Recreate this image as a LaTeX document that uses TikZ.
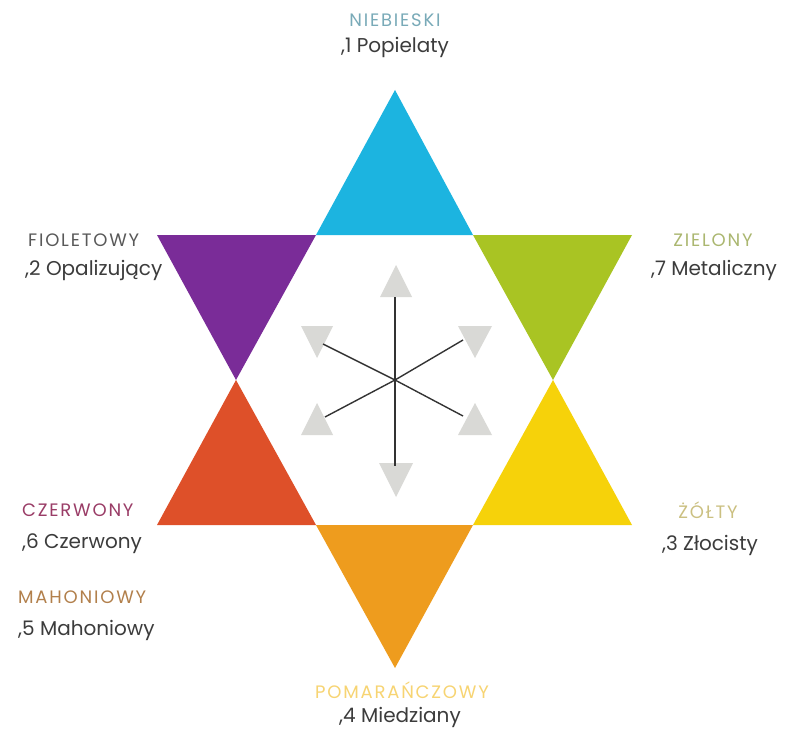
\documentclass[tikz,border=0pt]{standalone}
\usepackage{fontspec}
\setmainfont{Poppins}
\usepackage{xcolor}
\definecolor{star-blue}{HTML}{1CB4E0}
\definecolor{star-violet}{HTML}{7A2C98}
\definecolor{star-green}{HTML}{A9C423}
\definecolor{star-yellow}{HTML}{F6D20A}
\definecolor{star-orange}{HTML}{EE9C1E}
\definecolor{star-red}{HTML}{DE5029}
\definecolor{arrow-grey}{HTML}{D9D9D6}
\definecolor{label-dark}{HTML}{3C3C3C}

\begin{document}
\begin{tikzpicture}[x=1pt, y=-1pt,
    every node/.style={inner sep=0pt},
    title/.style={text=#1, font=\fontsize{18}{20}\selectfont\addfontfeatures{LetterSpace=10}},
    finish/.style={text=label-dark, font=\fontsize{20}{22}\selectfont},
    spoke/.style={draw=black!80, line width=1.4pt},
    tip/.style={fill=arrow-grey}]
  \useasboundingbox[fill=white] (0,0) rectangle (789,738);
  % hexagon corners and centre
  \coordinate (c) at (395,380);
  \coordinate (h1) at (316,235);
  \coordinate (h2) at (473,235);
  \coordinate (h3) at (553,380);
  \coordinate (h4) at (473,525);
  \coordinate (h5) at (316,525);
  \coordinate (h6) at (236,380);
  % outer points
  \coordinate (pTop) at (395,90);
  \coordinate (pBot) at (395,668);
  \coordinate (pTL) at (157,235);
  \coordinate (pTR) at (632,235);
  \coordinate (pBL) at (157,525);
  \coordinate (pBR) at (632,525);
  % triangles
  \fill[star-blue] (pTop) -- (h1) -- (h2) -- cycle;
  \fill[star-violet] (pTL) -- (h1) -- (h6) -- cycle;
  \fill[star-green] (h2) -- (pTR) -- (h3) -- cycle;
  \fill[star-yellow] (h3) -- (pBR) -- (h4) -- cycle;
  \fill[star-orange] (h5) -- (h4) -- (pBot) -- cycle;
  \fill[star-red] (h6) -- (h5) -- (pBL) -- cycle;
  % grey tips in the middle
  \fill[tip] (396,265) -- (412,297) -- (380,297) -- cycle;
  \fill[tip] (379,463) -- (413,463) -- (396,497) -- cycle;
  \fill[tip] (301,326) -- (333,326) -- (317,358) -- cycle;
  \fill[tip] (458,326) -- (492,326) -- (475,358) -- cycle;
  \fill[tip] (317,403) -- (333,435) -- (301,435) -- cycle;
  \fill[tip] (475,403) -- (492,435) -- (458,435) -- cycle;
  % spokes
  \coordinate (sN) at (395,297);
  \coordinate (sS) at (395,466);
  \coordinate (sNW) at (323,344);
  \coordinate (sNE) at (463,340);
  \coordinate (sSW) at (325,417);
  \coordinate (sSE) at (463,416);
  \foreach \s in {sN,sS,sNW,sNE,sSW,sSE}
    \draw[spoke] (c) -- (\s);
  % labels
  \node[title=star-blue!40!gray!80] (nBlue) at (395,20) {NIEBIESKI};
  \node[finish] (fBlue) at (395,47) {,1 Popielaty};
  \node[title=label-dark!85, anchor=west] (nViolet) at (28,240) {FIOLETOWY};
  \node[finish, anchor=west] (fViolet) at (25,270) {,2 Opalizujący};
  \node[title=star-green!55!gray!80] (nGreen) at (713,240) {ZIELONY};
  \node[finish] (fGreen) at (714,270) {,7 Metaliczny};
  \node[title=star-red!40!violet!70!gray, anchor=west] (nRed) at (22,510) {CZERWONY};
  \node[finish, anchor=west] (fRed) at (22,544) {,6 Czerwony};
  \node[title=brown!80!gray, anchor=west] (nMahog) at (18,597) {MAHONIOWY};
  \node[finish, anchor=west] (fMahog) at (18,630) {,5 Mahoniowy};
  \node[title=star-yellow!45!gray!70] (nYellow) at (708,510) {ŻÓŁTY};
  \node[finish] (fYellow) at (710,545) {,3 Złocisty};
  \node[title=star-yellow!50!star-orange!60!white] (nOrange) at (402,690) {POMARAŃCZOWY};
  \node[finish] (fOrange) at (400,717) {,4 Miedziany};
\end{tikzpicture}
\end{document}
